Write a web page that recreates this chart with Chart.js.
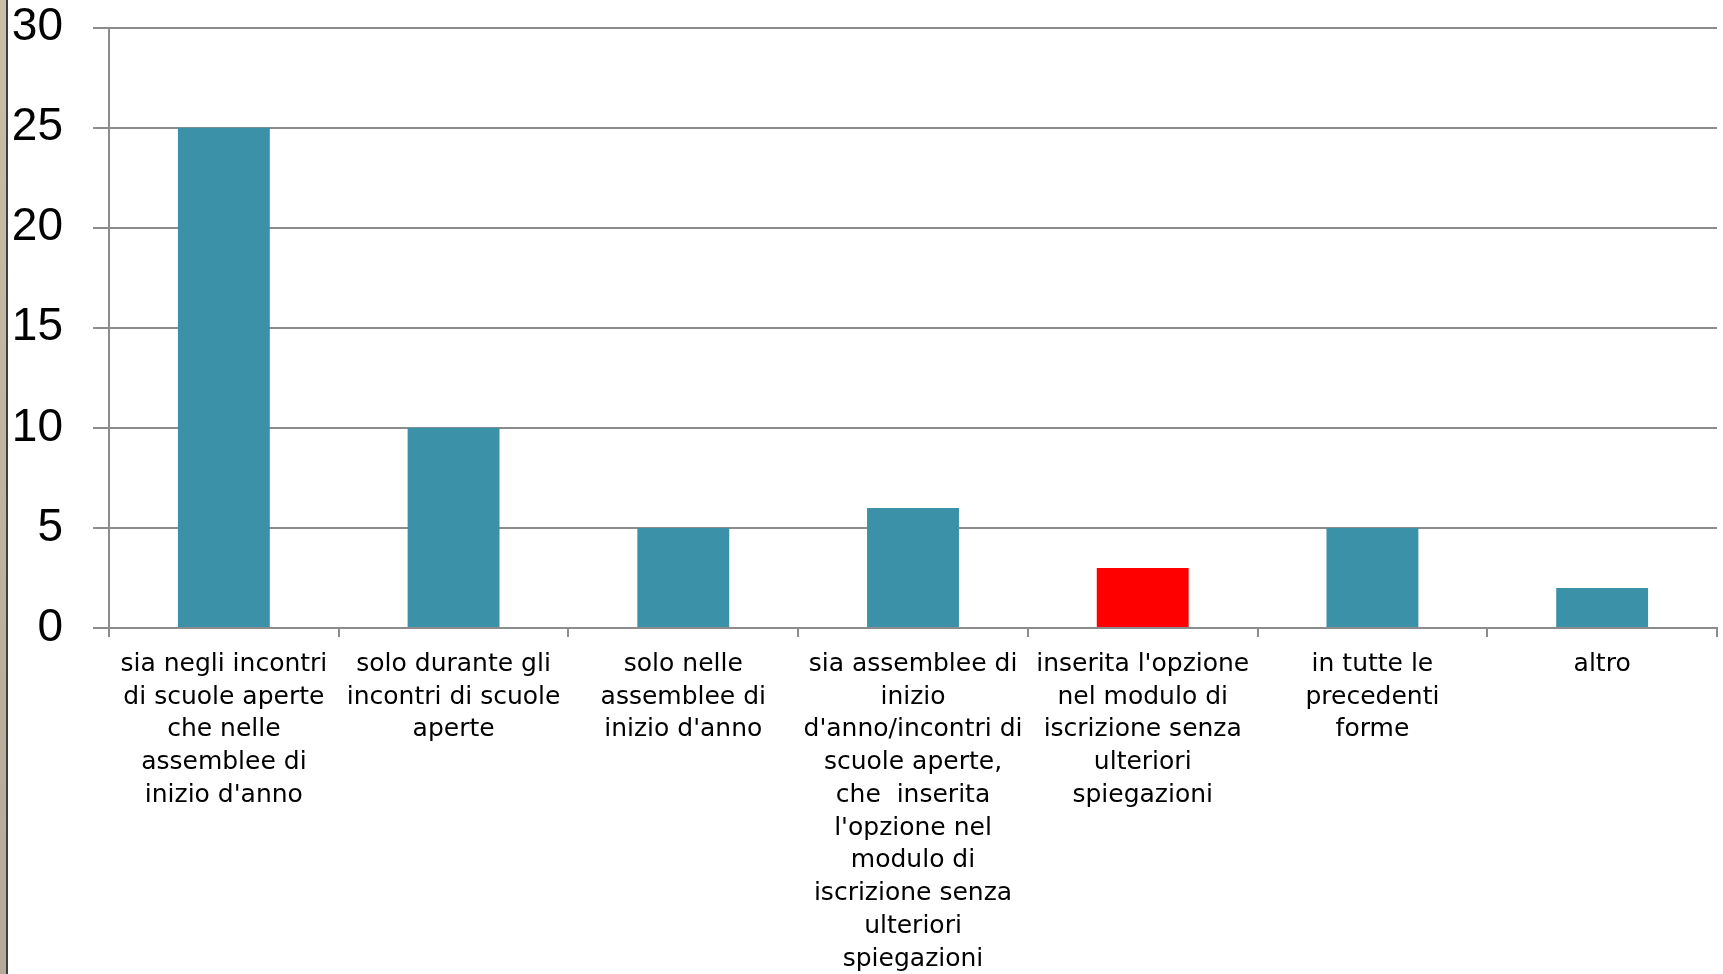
<!DOCTYPE html>
<html>
<head>
<meta charset="utf-8">
<script src="https://cdn.jsdelivr.net/npm/chart.js@4"></script>
<style>
  html, body { margin: 0; padding: 0; background: #ffffff; overflow: hidden; }
  #wrap { position: relative; width: 1723px; height: 974px; overflow: hidden; }
  #chart { position: absolute; left: 0; top: -30px; }
  #strip {
    position: absolute; left: 0; top: 0; width: 6px; height: 974px;
    background: linear-gradient(#c9bfa8, #b3ab98);
    border-right: 2px solid #3f3f3f;
  }
</style>
</head>
<body>
<div id="wrap">
  <canvas id="chart" width="1723" height="1004"></canvas>
  <div id="strip"></div>
</div>
<script>
// categories (already wrapped as in the original slide)
const categories = [
  ["sia negli incontri", "di scuole aperte", "che nelle", "assemblee di", "inizio d'anno"],
  ["solo durante gli", "incontri di scuole", "aperte"],
  ["solo nelle", "assemblee di", "inizio d'anno"],
  ["sia assemblee di", "inizio", "d'anno/incontri di", "scuole aperte,", "che  inserita", "l'opzione nel", "modulo di", "iscrizione senza", "ulteriori", "spiegazioni"],
  ["inserita l'opzione", "nel modulo di", "iscrizione senza", "ulteriori", "spiegazioni"],
  ["in tutte le", "precedenti", "forme"],
  ["altro"]
];
const values = [25, 10, 5, 6, 3, 5, 2];
const barColors = ["#3a91a8", "#3a91a8", "#3a91a8", "#3a91a8", "#ff0000", "#3a91a8", "#3a91a8"];

const yMin = 0;
const yMax = 30;
const yStep = 5;

const gridGray = "#8c8c8c";

const ctx = document.getElementById("chart");
new Chart(ctx, {
  type: "bar",
  data: {
    labels: categories,
    datasets: [{
      data: values,
      backgroundColor: barColors,
      borderWidth: 0,
      barPercentage: 0.4,
      categoryPercentage: 1.0
    }]
  },
  options: {
    responsive: false,
    animation: false,
    layout: { padding: { left: 0, right: 6, top: 0, bottom: 0 } },
    plugins: { legend: { display: false }, tooltip: { enabled: false } },
    scales: {
      x: {
        offset: true,
        grid: { drawOnChartArea: false, drawTicks: true, tickLength: 9, offset: true, color: gridGray, lineWidth: 2 },
        border: { display: true, color: gridGray, width: 2 },
        ticks: {
          autoSkip: false, maxRotation: 0, minRotation: 0,
          padding: 11,
          color: "#000000",
          font: { family: "DejaVu Sans", size: 25, lineHeight: 1.31 }
        },
        afterFit: (scale) => { scale.height = 346; }
      },
      y: {
        min: yMin, max: yMax,
        grid: { color: gridGray, lineWidth: 2, tickLength: 16 },
        border: { display: true, color: gridGray, width: 2 },
        ticks: {
          stepSize: yStep,
          padding: 30,
          color: "#000000",
          font: { family: "Liberation Sans", size: 46 }
        },
        afterFit: (scale) => { scale.width = 109; }
      }
    }
  }
});
</script>
</body>
</html>
